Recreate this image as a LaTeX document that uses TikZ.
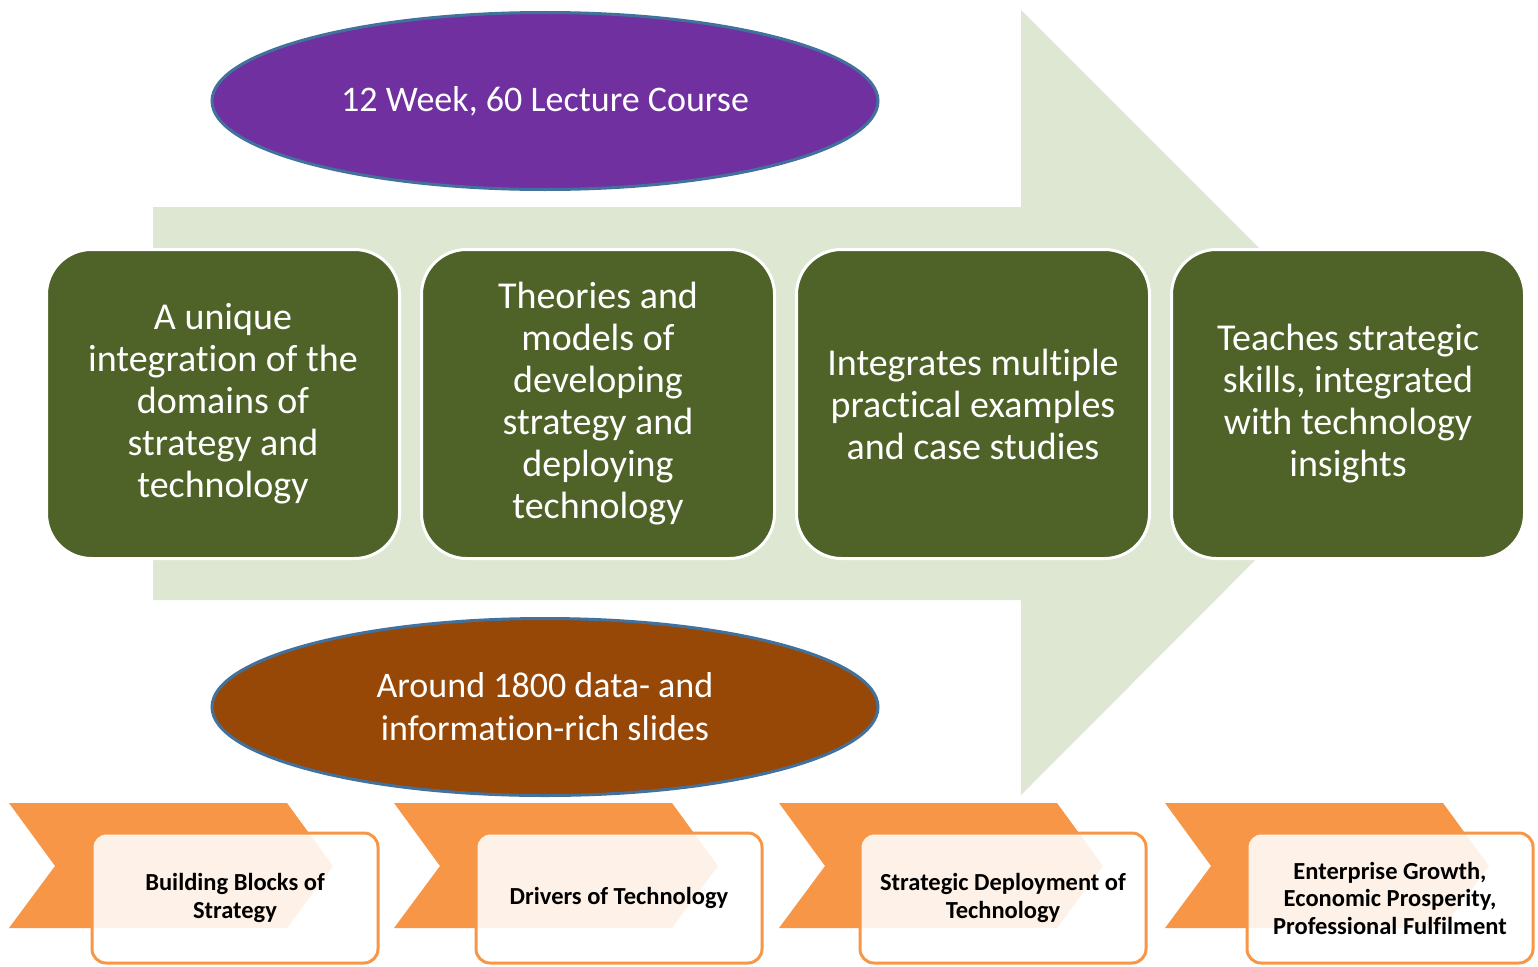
\documentclass[tikz,border=0pt]{standalone}
\usepackage{fontspec}
\setmainfont{Carlito}[Ligatures=NoCommon]
\usetikzlibrary{positioning, shapes.geometric}
\definecolor{arrowgreen}{HTML}{DDE7D1}
\definecolor{boxgreen}{HTML}{4F6228}
\definecolor{ovalpurple}{HTML}{7030A0}
\definecolor{ovalbrown}{HTML}{974706}
\definecolor{ovalline}{HTML}{41719C}
\definecolor{chevorange}{HTML}{F79646}
\tikzset{
	greenbox/.style={draw=white, line width=3pt, fill=boxgreen, rounded corners=45pt,
		minimum width=353pt, minimum height=309pt, align=center, text=white,
		font=\fontsize{38}{42}\selectfont},
	oval/.style={ellipse, draw=ovalline, line width=3pt, minimum width=666pt,
		minimum height=177pt, align=center, text=white,
		font=\fontsize{36}{43}\selectfont},
	stage/.style={draw=chevorange, line width=3pt, fill=white, fill opacity=0.88,
		text opacity=1, rounded corners=14pt, minimum width=286pt, minimum height=130pt,
		align=center, font=\fontsize{24.5}{27.5}\selectfont\bfseries},
	chevron/.style={fill=chevorange}}

\begin{document}
\begin{tikzpicture}[x=1pt, y=-1pt]
		\useasboundingbox (0,0) rectangle (1538,966);
		
		%big arrow
		\fill[arrowgreen] (153,207) -- (1021,207) -- (1021,10) -- (1413,402)
			-- (1021,795) -- (1021,600) -- (153,600) -- cycle;
		
		%ovals
		\node[oval, fill=ovalpurple] (course) at (545,101) {12 Week, 60 Lecture Course};
		\node[oval, fill=ovalbrown] (slides) at (545,707) {Around 1800 data- and\\information-rich slides};
		
		%green boxes
		\node[greenbox] (b1) at (223,404) {A unique\\integration of the\\domains of\\strategy and\\technology};
		\node[greenbox, right=19pt of b1] (b2) {Theories and\\models of\\developing\\strategy and\\deploying\\technology};
		\node[greenbox, right=19pt of b2] (b3) {Integrates multiple\\practical examples\\and case studies};
		\node[greenbox, right=19pt of b3] (b4) {Teaches strategic\\skills, integrated\\with technology\\insights};
		
		%chevrons
		\foreach \dx in {0,385,770,1156}
			\fill[chevron, xshift=\dx pt] (9,803) -- (287,803) -- (333,866)
				-- (287,928) -- (9,928) -- (55,866) -- cycle;
		
		%stages
		\node[stage] (s1) at (235,898) {Building Blocks of\\Strategy};
		\node[stage, right=95pt of s1] (s2) {Drivers of Technology};
		\node[stage, right=95pt of s2] (s3) {Strategic Deployment of\\Technology};
		\node[stage, right=98pt of s3] (s4) {Enterprise Growth,\\Economic Prosperity,\\Professional Fulfilment};
	\end{tikzpicture}
\end{document}
